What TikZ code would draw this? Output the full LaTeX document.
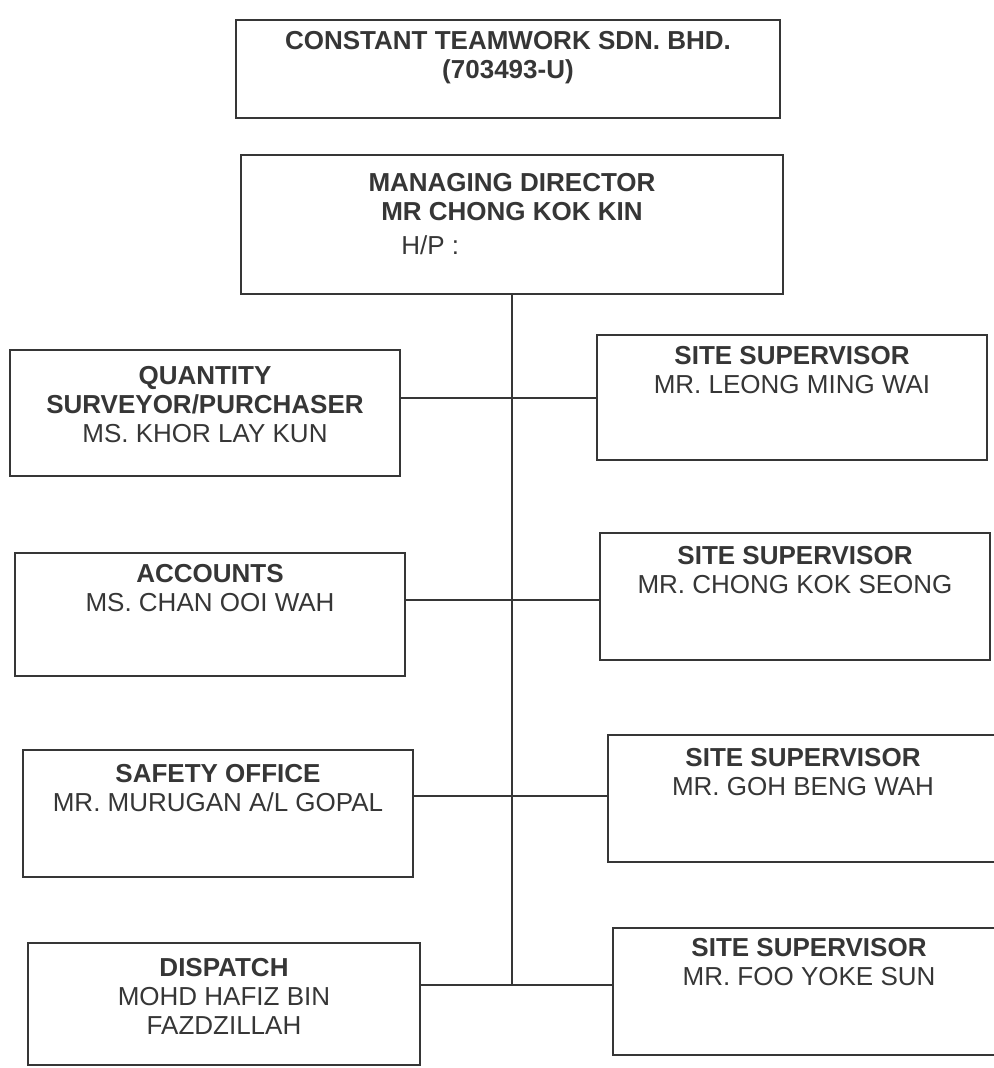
\documentclass[tikz,border=0pt]{standalone}
\usepackage{fontspec}
\setmainfont{Liberation Sans}
\definecolor{ink}{HTML}{363636}
\newcommand\boxtext[1]{\begin{tabular}[t]{@{}c@{}}#1\end{tabular}}
\begin{document}
\begin{tikzpicture}[x=0.75pt,y=-0.75pt,
  box/.style={draw=ink, line width=1pt, inner sep=0pt, outer sep=0pt, rectangle},
  txt/.style={anchor=base, inner sep=0pt, text=ink, font=\fontsize{19.5}{22}\selectfont},
  conn/.style={draw=ink, line width=1pt}]
\useasboundingbox[fill=white] (0,0) rectangle (993,1068);
% boxes
\node[box, minimum width=408pt, minimum height=73.5pt] (top) at (508,69) {};
\node[box, minimum width=406.5pt, minimum height=104.25pt] (md) at (512,224.5) {};
\node[box, minimum width=292.5pt, minimum height=94.5pt] (qs) at (205,413) {};
\node[box, minimum width=292.5pt, minimum height=92.25pt] (acc) at (210,614.5) {};
\node[box, minimum width=292.5pt, minimum height=95.25pt] (saf) at (218,813.5) {};
\node[box, minimum width=294pt, minimum height=91.5pt] (dis) at (224,1004) {};
\node[box, minimum width=292.5pt, minimum height=93.75pt] (ss1) at (792,397.5) {};
\node[box, minimum width=292.5pt, minimum height=95.25pt] (ss2) at (795,596.5) {};
\node[box, minimum width=292.5pt, minimum height=95.25pt] (ss3) at (803,798.5) {};
\node[box, minimum width=294pt, minimum height=95.25pt] (ss4) at (809,991.5) {};
% texts
\node[txt] (toptxt) at (top.center |- 0,49) {\boxtext{\textbf{CONSTANT TEAMWORK SDN. BHD.}\\\textbf{(703493-U)}}};
\node[txt] (mdtxt) at (md.center |- 0,191) {\boxtext{\textbf{MANAGING DIRECTOR}\\\textbf{MR CHONG KOK KIN}}};
\node[txt, anchor=base west] (hp) at (401,254) {H/P :};
\node[txt] (qstxt) at (qs.center |- 0,384) {\boxtext{\textbf{QUANTITY}\\\textbf{SURVEYOR/PURCHASER}\\MS. KHOR LAY KUN}};
\node[txt] (acctxt) at (acc.center |- 0,582) {\boxtext{\textbf{ACCOUNTS}\\MS. CHAN OOI WAH}};
\node[txt] (saftxt) at (saf.center |- 0,782) {\boxtext{\textbf{SAFETY OFFICE}\\MR. MURUGAN A/L GOPAL}};
\node[txt] (distxt) at (dis.center |- 0,976) {\boxtext{\textbf{DISPATCH}\\MOHD HAFIZ BIN\\FAZDZILLAH}};
\node[txt] (ss1txt) at (ss1.center |- 0,364) {\boxtext{\textbf{SITE SUPERVISOR}\\MR. LEONG MING WAI}};
\node[txt] (ss2txt) at (ss2.center |- 0,564) {\boxtext{\textbf{SITE SUPERVISOR}\\MR. CHONG KOK SEONG}};
\node[txt] (ss3txt) at (ss3.center |- 0,766) {\boxtext{\textbf{SITE SUPERVISOR}\\MR. GOH BENG WAH}};
\node[txt] (ss4txt) at (ss4.center |- 0,956) {\boxtext{\textbf{SITE SUPERVISOR}\\MR. FOO YOKE SUN}};
% connectors
\coordinate (tbot) at (md.south |- 0,985);
\draw[conn] (md.south) -- (tbot);
\draw[conn] (qs.east |- 0,398) -- (ss1.west |- 0,398);
\draw[conn] (acc.east |- 0,600) -- (ss2.west |- 0,600);
\draw[conn] (saf.east |- 0,796) -- (ss3.west |- 0,796);
\draw[conn] (dis.east |- 0,985) -- (ss4.west |- 0,985);
\end{tikzpicture}
\end{document}
